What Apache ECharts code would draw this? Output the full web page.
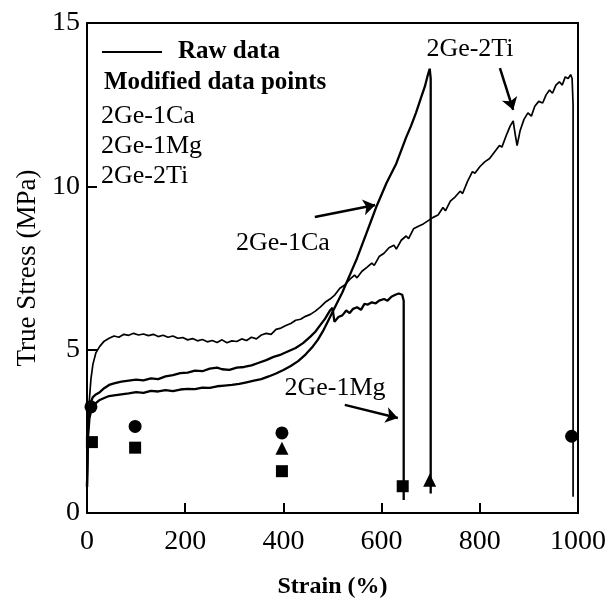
<!DOCTYPE html>
<html>
<head>
<meta charset="utf-8">
<script src="https://cdn.jsdelivr.net/npm/echarts@6/dist/echarts.min.js"></script>
<style>
  html, body { margin: 0; padding: 0; background: #fff; }
  #chart { width: 614px; height: 604px; }
</style>
</head>
<body>
<div id="chart"></div>
<script>
// raw curves, [strain %, true stress MPa]
var tiRaw = [
  [0,0.8],[2,2.6],[5,3.5],[8,4.1],[12,4.55],[18,4.9],[26,5.1],[35,5.26],[45,5.35],[55,5.42],
  [65,5.38],[75,5.47],[85,5.44],[95,5.5],[105,5.45],[115,5.48],[125,5.43],[135,5.47],[145,5.4],
  [155,5.44],[165,5.38],[175,5.42],[185,5.35],[195,5.37],[205,5.3],[215,5.34],[225,5.27],[235,5.31],
  [245,5.24],[255,5.28],[265,5.22],[275,5.3],[285,5.21],[295,5.27],[305,5.25],[315,5.33],[325,5.28],
  [335,5.38],[345,5.33],[355,5.45],[365,5.5],[375,5.47],[385,5.62],[395,5.66],[405,5.74],[415,5.8],
  [425,5.9],[435,5.93],[445,6.02],[455,6.08],[465,6.18],[475,6.3],[485,6.45],[495,6.55],[505,6.68],
  [515,6.88],[525,6.98],[535,7.15],[545,7.28],[550,7.2],[560,7.4],[570,7.52],[580,7.65],[585,7.58],
  [595,7.85],[605,7.95],[615,8.12],[625,8.2],[630,8.08],[640,8.35],[650,8.48],[655,8.4],[665,8.7],
  [675,8.78],[685,8.85],[695,8.95],[705,9.05],[715,9.12],[725,9.35],[730,9.25],[740,9.55],[750,9.68],
  [760,9.85],[765,9.78],[775,10.15],[785,10.45],[790,10.4],[800,10.6],[810,10.75],[820,10.85],
  [830,11.05],[840,11.25],[845,11.2],[855,11.6],[862,11.85],[868,12.0],[872,11.6],[876,11.25],
  [882,11.7],[890,12.05],[898,12.25],[905,12.15],[912,12.45],[920,12.6],[928,12.55],[935,12.8],
  [942,12.95],[948,12.85],[955,13.1],[962,13.2],[968,13.1],[974,13.35],[980,13.3],[985,13.42],
  [988,13.3],[990,12.5],[990,0.5]
];
var caRaw = [
  [0,0.8],[2,2.3],[5,2.9],[8,3.1],[12,3.24],[18,3.36],[26,3.46],[35,3.52],[45,3.58],[55,3.6],
  [70,3.63],[85,3.66],[100,3.7],[115,3.68],[130,3.74],[145,3.72],[160,3.76],[175,3.73],[190,3.78],
  [205,3.8],[220,3.79],[235,3.84],[250,3.83],[265,3.88],[280,3.9],[295,3.92],[310,3.95],[325,4.0],
  [340,4.05],[355,4.1],[370,4.18],[385,4.27],[400,4.38],[415,4.5],[430,4.65],[445,4.85],[460,5.1],
  [470,5.3],[480,5.55],[490,5.85],[500,6.15],[510,6.45],[520,6.75],[530,7.1],[540,7.45],[550,7.8],
  [560,8.2],[570,8.6],[580,9.0],[590,9.4],[600,9.75],[610,10.1],[620,10.4],[630,10.7],[640,11.1],
  [650,11.5],[660,11.85],[670,12.25],[680,12.7],[688,13.05],[694,13.4],[698,13.6],[700,13.3],[700,0.6]
];
var mgRaw = [
  [0,0.8],[2,2.6],[5,3.2],[8,3.4],[12,3.55],[18,3.63],[26,3.7],[35,3.82],[45,3.92],[55,3.97],
  [70,4.02],[85,4.05],[100,4.08],[115,4.06],[130,4.12],[145,4.1],[160,4.18],[175,4.22],[190,4.28],
  [205,4.3],[220,4.36],[235,4.34],[250,4.42],[265,4.45],[275,4.4],[290,4.38],[305,4.45],[320,4.47],
  [335,4.52],[350,4.6],[365,4.68],[380,4.78],[395,4.85],[410,4.95],[425,5.05],[440,5.2],[455,5.4],
  [465,5.55],[475,5.75],[485,5.95],[495,6.2],[500,6.28],[504,5.85],[512,6.0],[520,6.05],[528,6.2],
  [535,6.12],[542,6.25],[550,6.3],[558,6.22],[565,6.4],[572,6.38],[580,6.45],[588,6.42],[595,6.5],
  [605,6.55],[612,6.5],[620,6.62],[628,6.68],[635,6.72],[642,6.68],[645,6.5],[645,0.4]
];

// modified data points
var tiPoints = [[8,3.25],[98,2.65],[397,2.45],[987,2.35]];
var caPoints = [[397,1.98],[698,1.0]];
var mgPoints = [[10,2.17],[98,2.0],[397,1.28],[643,0.82]];

// curve labels and their arrows
var curveNames = ['2Ge-1Ca', '2Ge-1Mg', '2Ge-2Ti'];
var labelSpots = [[399,8.26],[505,3.83],[780,14.2]];
var arrowFrom = [[464,9.06],[525,3.31],[841,13.62]];
var arrowTo = [[587,9.43],[633,2.91],[868,12.34]];

var serif = 'Liberation Serif';

var chart = echarts.init(document.getElementById('chart'));

var rawLine = function(name, data, width) {
  return {
    name: name,
    type: 'line',
    data: data,
    showSymbol: false,
    symbol: 'none',
    sampling: null,
    lineStyle: { color: '#000', width: width },
    silent: true
  };
};

var marks = function(name, data, symbol, size) {
  return {
    name: name,
    type: 'scatter',
    data: data,
    symbol: symbol,
    symbolSize: size,
    itemStyle: { color: '#000', opacity: 1 },
    z: 5
  };
};

chart.setOption({
  animation: false,
  backgroundColor: '#fff',
  grid: {
    left: 87, right: 36, top: 23, bottom: 91,
    show: true,
    borderColor: '#000',
    borderWidth: 2
  },
  xAxis: {
    type: 'value',
    min: 0, max: 1000, interval: 200,
    name: 'Strain (%)',
    nameLocation: 'middle',
    nameGap: 62,
    nameTextStyle: { fontFamily: serif, fontSize: 24, fontWeight: 'bold', color: '#000' },
    axisLine: { lineStyle: { color: '#000', width: 2 } },
    axisTick: { inside: true, length: 10, lineStyle: { color: '#000', width: 2 } },
    axisLabel: { fontFamily: serif, fontSize: 28, color: '#000', margin: 15, formatter: function(v) { return String(v); } },
    splitLine: { show: false }
  },
  yAxis: {
    type: 'value',
    min: 0, max: 15, interval: 5,
    name: 'True Stress (MPa)',
    nameLocation: 'middle',
    nameGap: 46,
    nameTextStyle: { fontFamily: serif, fontSize: 27, color: '#000' },
    axisLine: { lineStyle: { color: '#000', width: 2 } },
    axisTick: { inside: true, length: 10, lineStyle: { color: '#000', width: 2 } },
    axisLabel: { fontFamily: serif, fontSize: 28, color: '#000', margin: 7 },
    splitLine: { show: false }
  },
  series: [
    rawLine('2Ge-2Ti raw', tiRaw, 1.7),
    rawLine('2Ge-1Ca raw', caRaw, 2.3),
    rawLine('2Ge-1Mg raw', mgRaw, 2.3),
    marks('2Ge-2Ti', tiPoints, 'circle', 13),
    marks('2Ge-1Ca', caPoints, 'triangle', 13),
    marks('2Ge-1Mg', mgPoints, 'rect', 12),
    {
      name: 'arrows',
      type: 'scatter',
      data: [],
      markLine: {
        silent: true,
        animation: false,
        symbol: ['none', 'arrow'],
        symbolSize: 12,
        label: { show: false },
        lineStyle: { color: '#000', width: 2.5, type: 'solid', opacity: 1 },
        data: arrowFrom.map(function(p, i) {
          return [{ coord: p }, { coord: arrowTo[i] }];
        })
      }
    }
  ]
});

// legend block and curve names as plain text
var textFont = '26px "Liberation Serif"';
var boldFont = 'bold 25px "Liberation Serif"';
var graphics = [
  { type: 'line', shape: { x1: 102, y1: 52, x2: 162, y2: 52 }, style: { stroke: '#000', lineWidth: 2 } },
  { type: 'text', x: 178, y: 52, style: { text: 'Raw data', font: boldFont, fill: '#000', textVerticalAlign: 'middle' } },
  { type: 'text', x: 104, y: 83, style: { text: 'Modified data points', font: boldFont, fill: '#000', textVerticalAlign: 'middle' } }
];
curveNames.forEach(function(n, i) {
  graphics.push({ type: 'text', x: 101, y: 116 + i * 30, style: { text: n, font: textFont, fill: '#000', textVerticalAlign: 'middle' } });
  var p = chart.convertToPixel({ gridIndex: 0 }, labelSpots[i]);
  graphics.push({ type: 'text', x: p[0], y: p[1], style: { text: n, font: textFont, fill: '#000', textAlign: 'center', textVerticalAlign: 'middle' } });
});
chart.setOption({ graphic: graphics });
</script>
</body>
</html>
